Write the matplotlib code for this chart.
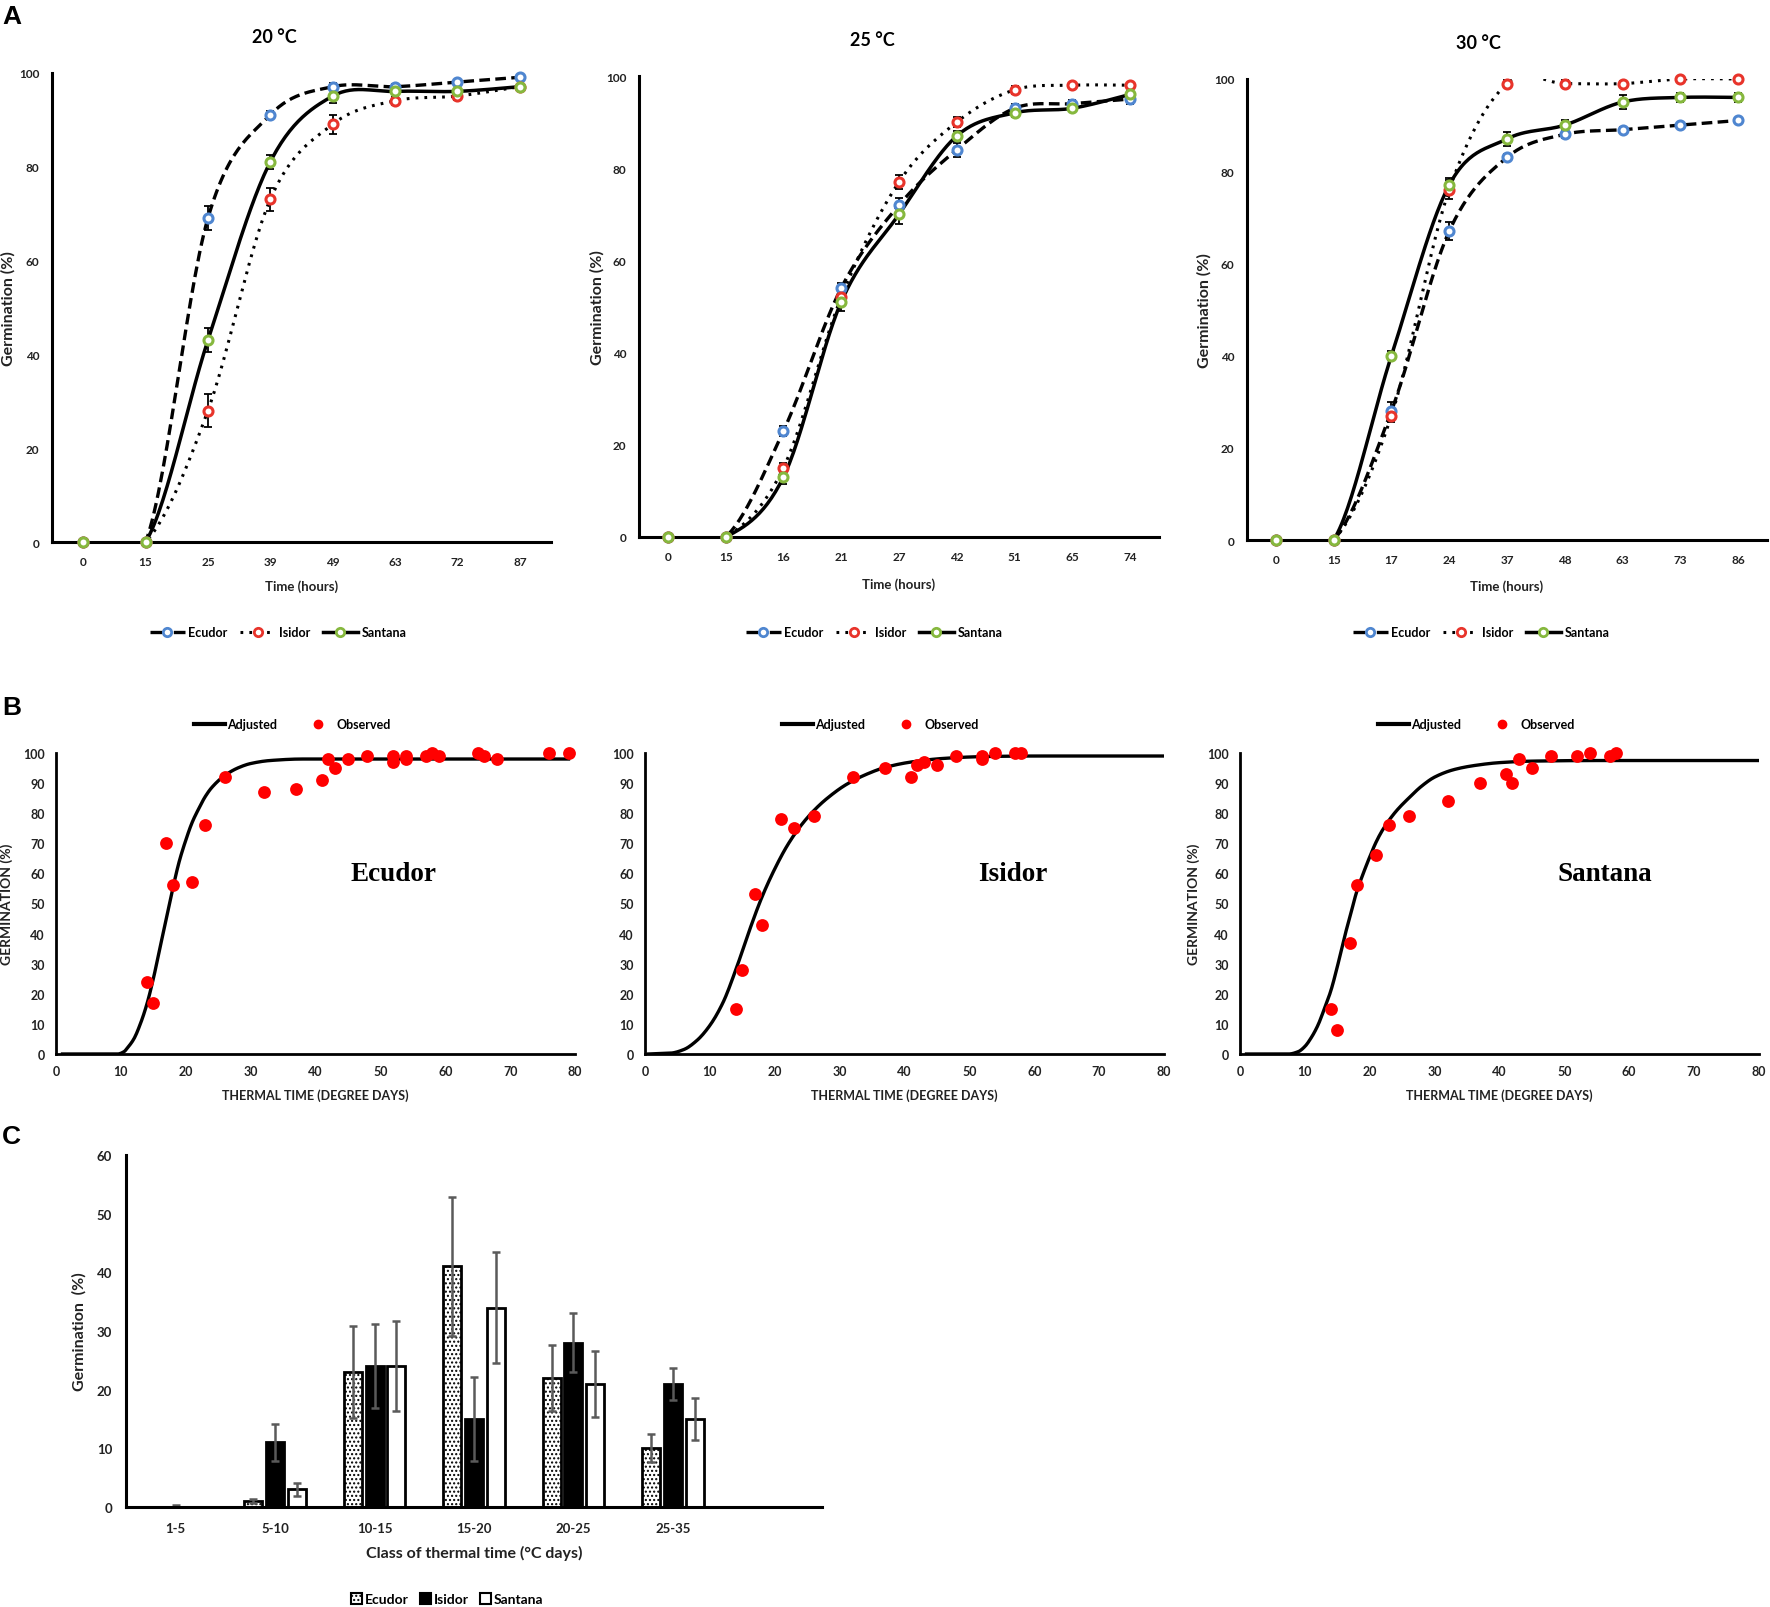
import numpy as np
import matplotlib
matplotlib.use("Agg")
import matplotlib.pyplot as plt
from matplotlib.lines import Line2D
from matplotlib.patches import Patch

plt.rcParams['font.family'] = ['Lato', 'DejaVu Sans']
plt.rcParams['hatch.linewidth'] = 1.0

W, H = 1770, 1608

# ─────────────────────────────────────────────
# PANEL A — germination vs time (categorical hours)
# ─────────────────────────────────────────────
A_TITLES = ["20 °C", "25 °C", "30 °C"]

HOURS_20 = ["0", "15", "25", "39", "49", "63", "72", "87"]
ECU_20 = [0, 0, 69, 91, 97, 97, 98, 99]
ISI_20 = [0, 0, 28, 73, 89, 94, 95, 97]
SAN_20 = [0, 0, 43, 81, 95, 96, 96, 97]
ECU_20_ERR = [0, 0, 2.5, 0.8, 0.8, 0.5, 0.5, 0.5]
ISI_20_ERR = [0, 0, 3.5, 2.5, 2, 0.8, 0.8, 0.5]
SAN_20_ERR = [0, 0, 2.5, 1.5, 1.5, 0.5, 0.5, 0.5]

HOURS_25 = ["0", "15", "16", "21", "27", "42", "51", "65", "74"]
ECU_25 = [0, 0, 23, 54, 72, 84, 93, 94, 95]
ISI_25 = [0, 0, 15, 52, 77, 90, 97, 98, 98]
SAN_25 = [0, 0, 13, 51, 70, 87, 92, 93, 96]
ECU_25_ERR = [0, 0, 1, 1, 1.5, 1.5, 1, 0.8, 1]
ISI_25_ERR = [0, 0, 1, 1, 1.5, 1, 0.8, 0.5, 0.5]
SAN_25_ERR = [0, 0, 1.5, 2, 2, 1, 0.8, 0.5, 0.8]

HOURS_30 = ["0", "15", "17", "24", "37", "48", "63", "73", "86"]
ECU_30 = [0, 0, 28, 67, 83, 88, 89, 90, 91]
ISI_30 = [0, 0, 27, 76, 99, 99, 99, 100, 100]
SAN_30 = [0, 0, 40, 77, 87, 90, 95, 96, 96]
ECU_30_ERR = [0, 0, 2, 2, 0.8, 0.8, 0.5, 0.5, 0.5]
ISI_30_ERR = [0, 0, 1.5, 2, 0.8, 0.8, 0.5, 0.5, 0.5]
SAN_30_ERR = [0, 0, 1, 1.5, 1.5, 1, 1.5, 1, 1]

# ─────────────────────────────────────────────
# PANEL B — thermal time model (adjusted curve)
# ─────────────────────────────────────────────
ADJ_X_ECU = [1, 9.5, 10.5, 11, 12, 13, 14, 15, 16, 17, 18, 19, 20, 21, 22, 23, 24, 26, 28, 30, 33, 38, 50, 79]
ADJ_Y_ECU = [0, 0, 0.8, 2, 5, 10, 16.5, 25, 35, 45, 55, 64, 71, 77, 81.5, 85.5, 88.5, 92.5, 95, 96.5, 97.5, 98, 98, 98]
OBS_X_ECU = [14, 15, 17, 18, 21, 23, 26, 32, 37, 41, 42, 43, 45, 48, 52, 52, 54, 54, 57, 58, 59, 65, 66, 68, 76, 79]
OBS_Y_ECU = [24, 17, 70, 56, 57, 76, 92, 87, 88, 91, 98, 95, 98, 99, 99, 97, 99, 98, 99, 100, 99, 100, 99, 98, 100, 100]

ADJ_X_ISI = [0.5, 4, 6, 8, 10, 12, 14, 16, 18, 20, 22, 24, 26, 28, 31, 34, 37, 41, 46, 52, 60, 80]
ADJ_Y_ISI = [0, 0.3, 1.5, 4.5, 9.5, 17, 28, 40.5, 52, 61.5, 69.5, 75.8, 80.8, 84.8, 89.5, 92.8, 95.2, 97, 98.2, 98.8, 99, 99]
OBS_X_ISI = [14, 15, 17, 18, 21, 23, 26, 32, 37, 41, 42, 43, 45, 48, 52, 52, 54, 57, 58]
OBS_Y_ISI = [15, 28, 53, 43, 78, 75, 79, 92, 95, 92, 96, 97, 96, 99, 99, 98, 100, 100, 100]

ADJ_X_SAN = [1, 7.5, 9, 10, 11, 12, 13, 14, 15, 16, 17, 18, 19, 20, 21, 22, 24, 26, 28, 30, 33, 36, 40, 45, 55, 80]
ADJ_Y_SAN = [0, 0, 0.8, 2.5, 5.5, 9.5, 15, 21, 29, 38, 46, 54, 60, 65.5, 70.5, 74.5, 80.5, 85, 89, 92, 94.5, 95.8, 96.8, 97.3, 97.5, 97.5]
OBS_X_SAN = [14, 15, 17, 18, 21, 23, 26, 32, 37, 41, 42, 43, 45, 48, 52, 54, 57, 58]
OBS_Y_SAN = [15, 8, 37, 56, 66, 76, 79, 84, 90, 93, 90, 98, 95, 99, 99, 100, 99, 100]

# ─────────────────────────────────────────────
# PANEL C — germination per thermal time class
# ─────────────────────────────────────────────
CLASSES = ["1-5", "5-10", "10-15", "15-20", "20-25", "25-35", ""]
C_ECU = [0, 1, 23, 41, 22, 10]
C_ISI = [0, 11, 24, 15, 28, 21]
C_SAN = [0, 3, 24, 34, 21, 15]
C_ECU_ERR = [0, 0.3, 7.9, 11.8, 5.6, 2.4]
C_ISI_ERR = [0.3, 3.2, 7.2, 7.2, 5.0, 2.7]
C_SAN_ERR = [0, 1.1, 7.7, 9.5, 5.6, 3.5]

BLUE, RED, GREEN = "#4F86D0", "#E8342B", "#86B83E"


def box(l, r, t, b):
    return [l / W, 1 - b / H, (r - l) / W, (b - t) / H]


def excel_smooth(xs, ys, n=30):
    # Bezier smoothing like Excel's "smoothed line"
    p = np.column_stack([xs, ys]).astype(float)
    pad = np.vstack([p[0], p, p[-1]])
    t = np.linspace(0, 1, n)[:, None]
    out = []
    for i in range(len(p) - 1):
        p0, p1 = pad[i + 1], pad[i + 2]
        c1 = p0 + (pad[i + 2] - pad[i]) / 6
        c2 = p1 - (pad[i + 3] - pad[i + 1]) / 6
        seg = (1 - t) ** 3 * p0 + 3 * (1 - t) ** 2 * t * c1 + 3 * (1 - t) * t ** 2 * c2 + t ** 3 * p1
        out.append(seg if i == 0 else seg[1:])
    s = np.vstack(out)
    return s[:, 0], s[:, 1]


def pchip(xs, ys, n=500):
    x = np.asarray(xs, float); y = np.asarray(ys, float)
    h = np.diff(x); d = np.diff(y) / h
    m = np.zeros_like(y)
    for k in range(1, len(x) - 1):
        if d[k - 1] * d[k] > 0:
            w1 = 2 * h[k] + h[k - 1]; w2 = h[k] + 2 * h[k - 1]
            m[k] = (w1 + w2) / (w1 / d[k - 1] + w2 / d[k])
    m[0] = d[0]; m[-1] = d[-1]
    xx = np.linspace(x[0], x[-1], n)
    idx = np.clip(np.searchsorted(x, xx) - 1, 0, len(h) - 1)
    t = (xx - x[idx]) / h[idx]
    h00 = 2 * t ** 3 - 3 * t ** 2 + 1; h10 = t ** 3 - 2 * t ** 2 + t
    h01 = -2 * t ** 3 + 3 * t ** 2; h11 = t ** 3 - t ** 2
    yy = h00 * y[idx] + h10 * h[idx] * m[idx] + h01 * y[idx + 1] + h11 * h[idx] * m[idx + 1]
    return xx, yy


def style_axes(ax, lw=2.0):
    for s in ["top", "right"]:
        ax.spines[s].set_visible(False)
    for s in ["left", "bottom"]:
        ax.spines[s].set_linewidth(lw)
        ax.spines[s].set_color("black")
    ax.tick_params(length=0)


def bold_ticks(ax):
    for lab in ax.get_xticklabels() + ax.get_yticklabels():
        lab.set_fontweight("bold")
        lab.set_color("#222222")


fig = plt.figure(figsize=(W / 100, H / 100), dpi=100)

# ---------------- A ----------------
A_BOXES = [box(52, 551, 73.6, 543), box(639, 1159, 77, 538), box(1247, 1767, 80, 541)]
A_DATA = [
    (HOURS_20, ECU_20, ISI_20, SAN_20, ECU_20_ERR, ISI_20_ERR, SAN_20_ERR),
    (HOURS_25, ECU_25, ISI_25, SAN_25, ECU_25_ERR, ISI_25_ERR, SAN_25_ERR),
    (HOURS_30, ECU_30, ISI_30, SAN_30, ECU_30_ERR, ISI_30_ERR, SAN_30_ERR),
]
A_LEG_X = [278, 874, 1481]
A_TITLE_POS = [(0.445, 1.076), (0.448, 1.08), (0.446, 1.08)]
A_YLAB_X = [-0.072, -0.066, -0.068]
A_XLAB_Y = [-0.079, -0.087, -0.085]

series_style = [
    dict(name="Ecudor", color=BLUE, ls=(0, (3.2, 1.6)), leg_ls=(0, (3.5, 3.5)), lw=2.4),
    dict(name="Isidor", color=RED, ls=(0, (0.9, 2.0)), leg_ls=(0, (0.9, 2.0)), lw=2.2),
    dict(name="Santana", color=GREEN, ls="-", leg_ls="-", lw=2.5),
]

for k, (bx, data) in enumerate(zip(A_BOXES, A_DATA)):
    ax = fig.add_axes(bx)
    labels, ecu, isi, san, e_err, i_err, s_err = data
    xs = np.arange(len(labels))
    handles = []
    for st, ys, err in zip(series_style, [ecu, isi, san], [e_err, i_err, s_err]):
        sx, sy = excel_smooth(xs, ys)
        ax.plot(sx, sy, color="black", linestyle=st["ls"], lw=st["lw"], zorder=3)
        ax.errorbar(xs, ys, yerr=err, fmt="none", ecolor="black", elinewidth=1.3,
                    capsize=3, capthick=1.3, zorder=4, clip_on=False)
        ax.plot(xs, ys, "o", ms=6.5, mfc="white", mec=st["color"], mew=2.2,
                linestyle="none", zorder=5, clip_on=False)
        handles.append(Line2D([], [], color="black", linestyle=st["leg_ls"], lw=st["lw"],
                              marker="o", ms=6, mfc="white", mec=st["color"], mew=2))
    ax.set_xlim(-0.5, len(labels) - 0.5)
    ax.set_ylim(0, 100)
    ax.set_xticks(xs)
    ax.set_xticklabels(labels)
    ax.set_yticks(range(0, 101, 20))
    style_axes(ax, 2.2)
    ax.tick_params(axis="x", pad=10, labelsize=8.5)
    ax.tick_params(axis="y", pad=9, labelsize=8.5)
    bold_ticks(ax)
    ax.set_xlabel("Time (hours)", fontsize=9.5, fontweight="bold", color="#222222")
    ax.xaxis.set_label_coords(0.5, A_XLAB_Y[k])
    ax.set_ylabel("Germination (%)", fontsize=11.5, fontweight="bold", color="#222222")
    ax.yaxis.set_label_coords(A_YLAB_X[k], 0.5)
    ax.text(*A_TITLE_POS[k], A_TITLES[k], transform=ax.transAxes, ha="center", va="center",
            fontsize=13, fontweight="bold")
    fig.legend(handles, [s["name"] for s in series_style], loc="center",
               bbox_to_anchor=(A_LEG_X[k] / W, 1 - 633 / H), ncol=3, frameon=False,
               handlelength=2.8, handletextpad=0.3, columnspacing=1.0,
               prop=dict(weight="bold", size=9))

# ---------------- B ----------------
B_BOXES = [box(56, 575, 754, 1055), box(645, 1164, 754, 1055), box(1240, 1759, 754, 1055)]
B_DATA = [
    ("Ecudor", ADJ_X_ECU, ADJ_Y_ECU, OBS_X_ECU, OBS_Y_ECU),
    ("Isidor", ADJ_X_ISI, ADJ_Y_ISI, OBS_X_ISI, OBS_Y_ISI),
    ("Santana", ADJ_X_SAN, ADJ_Y_SAN, OBS_X_SAN, OBS_Y_SAN),
]
B_LEG_X = [292, 880, 1476]
B_NAME_X = [52, 56.7, 56.2]
B_YLAB = [-0.082, None, -0.077]

for k, (bx, data) in enumerate(zip(B_BOXES, B_DATA)):
    ax = fig.add_axes(bx)
    name, ax_, ay_, ox, oy = data
    cx, cy = pchip(ax_, ay_)
    ax.plot(cx, cy, color="black", lw=2.4, zorder=3)
    ax.scatter(ox, oy, s=85, color="#FF0000", zorder=4, clip_on=False, linewidths=0)
    ax.set_xlim(0, 80)
    ax.set_ylim(0, 100)
    ax.set_xticks(range(0, 81, 10))
    ax.set_yticks(range(0, 101, 10))
    style_axes(ax, 2.0)
    ax.tick_params(axis="x", pad=8, labelsize=9)
    ax.tick_params(axis="y", pad=8, labelsize=9)
    bold_ticks(ax)
    ax.set_xlabel("THERMAL TIME (DEGREE DAYS)", fontsize=9, fontweight="bold", color="#222222")
    ax.xaxis.set_label_coords(0.5, -0.114)
    if B_YLAB[k] is not None:
        ax.set_ylabel("GERMINATION (%)", fontsize=10, fontweight="bold", color="#222222")
        ax.yaxis.set_label_coords(B_YLAB[k], 0.5)
    ax.text(B_NAME_X[k], 60, name, ha="center", va="center", fontsize=19.5,
            fontweight="bold", family=["Liberation Serif", "DejaVu Serif"])
    handles = [Line2D([], [], color="black", lw=3),
               Line2D([], [], color="#FF0000", marker="o", ms=6, linestyle="none")]
    fig.legend(handles, ["Adjusted", "Observed"], loc="center",
               bbox_to_anchor=(B_LEG_X[k] / W, 1 - 725 / H), ncol=2, frameon=False,
               handlelength=2.5, handletextpad=0.2, columnspacing=2.0,
               prop=dict(weight="bold", size=9))

# ---------------- C ----------------
ax = fig.add_axes(box(126, 822, 1156, 1508))
xc = np.arange(len(CLASSES))
n = len(C_ECU)
bw, off = 0.18, 0.22
err_kw = dict(ecolor="#5a5a5a", elinewidth=1.8, capsize=3, capthick=1.8)
ax.bar(xc[:n] - off, C_ECU, bw, facecolor="white", edgecolor="black", hatch="....",
       linewidth=2, zorder=3)
ax.bar(xc[:n], C_ISI, bw, facecolor="black", edgecolor="black", linewidth=2, zorder=3)
ax.bar(xc[:n] + off, C_SAN, bw, facecolor="white", edgecolor="black", linewidth=2, zorder=3)
ax.errorbar(xc[:n] - off, C_ECU, yerr=C_ECU_ERR, fmt="none", zorder=4, **err_kw)
ax.errorbar(xc[:n], C_ISI, yerr=C_ISI_ERR, fmt="none", zorder=4, **err_kw)
ax.errorbar(xc[:n] + off, C_SAN, yerr=C_SAN_ERR, fmt="none", zorder=4, **err_kw)
ax.set_xlim(-0.5, len(CLASSES) - 0.5)
ax.set_ylim(0, 60)
ax.set_xticks(xc)
ax.set_xticklabels(CLASSES)
ax.set_yticks(range(0, 61, 10))
style_axes(ax, 2.2)
ax.spines["bottom"].set_zorder(5)
ax.tick_params(axis="x", pad=11, labelsize=9.5)
ax.tick_params(axis="y", pad=10, labelsize=9.5)
bold_ticks(ax)
ax.set_xlabel("Class of thermal time (°C days)", fontsize=11.5, fontweight="bold", color="#222222")
ax.xaxis.set_label_coords(0.5, -0.108)
ax.set_ylabel("Germination  (%)", fontsize=11.5, fontweight="bold", color="#222222")
ax.yaxis.set_label_coords(-0.056, 0.5)
c_handles = [Patch(facecolor="white", edgecolor="black", hatch="....", lw=1.5),
             Patch(facecolor="black", edgecolor="black", lw=1.5),
             Patch(facecolor="white", edgecolor="black", lw=1.5)]
fig.legend(c_handles, ["Ecudor", "Isidor", "Santana"], loc="center",
           bbox_to_anchor=(447 / W, 1 - 1600 / H), ncol=3, frameon=False,
           handlelength=0.8, handleheight=0.8, handletextpad=0.2, columnspacing=0.8,
           prop=dict(weight="bold", size=10))

# panel letters
for letter, yy in [("A", 17), ("B", 708), ("C", 1137)]:
    fig.text(2 / W, 1 - yy / H, letter, ha="left", va="center", fontsize=19,
             fontweight="bold", family=["Liberation Sans", "DejaVu Sans"])

fig.savefig("out.png", dpi=100)
